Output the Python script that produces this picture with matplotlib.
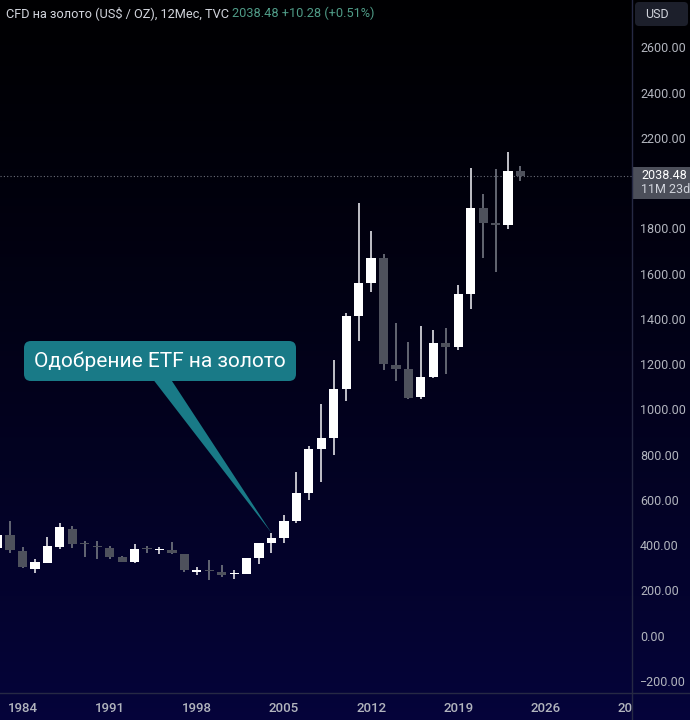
import numpy as np
import matplotlib
matplotlib.use("Agg")
import matplotlib.pyplot as plt
from matplotlib.patches import FancyBboxPatch, Polygon, Rectangle

plt.rcParams['font.family'] = ['Roboto', 'DejaVu Sans']

# годовые свечи золота
years = list(range(1982, 2025))
opens = [393, 451, 380, 301, 327, 398, 477, 412, 399, 393, 354, 332, 390, 384, 385,
         367, 287, 292, 287, 277, 278, 349, 415, 437, 513, 637, 831, 880, 1094, 1419,
         1565, 1675, 1202, 1184, 1061, 1149, 1300, 1282, 1516, 1896, 1823, 1821, 2060]
highs = [481, 513, 398, 345, 442, 504, 491, 424, 424, 402, 360, 411, 402, 397, 420,
         369, 309, 340, 318, 296, 351, 416, 460, 539, 729, 844, 1030, 1224, 1432, 1918,
         1795, 1693, 1388, 1304, 1375, 1357, 1366, 1556, 2073, 1958, 2068, 2144, 2082]
lows = [297, 371, 305, 283, 326, 389, 393, 354, 345, 346, 330, 326, 371, 366, 366,
        287, 274, 252, 264, 256, 277, 323, 371, 415, 505, 605, 685, 804, 1043, 1308,
        1525, 1180, 1132, 1052, 1052, 1146, 1162, 1270, 1450, 1675, 1613, 1803, 2016]
closes = [451, 385, 309, 331, 402, 486, 411, 409, 396, 354, 332, 389, 388, 386, 371,
          296, 289, 290, 274, 279, 349, 415, 437, 513, 637, 831, 880, 1094, 1419, 1565,
          1675, 1206, 1184, 1056, 1149, 1300, 1282, 1516, 1896, 1830, 1821, 2060, 2038.48]

x_ticks = [1984, 1991, 1998, 2005, 2012, 2019, 2026, 2033]
y_ticks = [-200, 0, 200, 400, 600, 800, 1000, 1200, 1400, 1600, 1800, 2000, 2200, 2400, 2600]
etf_year = 2004
last_price = closes[-1]

W, H = 690, 720
fig = plt.figure(figsize=(W / 100, H / 100), dpi=100)

# фон с градиентом
bg = fig.add_axes([0, 0, 1, 1], zorder=-5)
grad = np.linspace(0, 1, 256).reshape(-1, 1)
top = np.array([0.0, 0.0, 0.01])
bot = np.array([0.02, 0.015, 0.23])
img = top + (bot - top) * grad[..., None] ** 1.3
bg.imshow(img, aspect='auto', extent=[0, 1, 0, 1], origin='upper')
bg.axis('off')

# основная область графика
ax = fig.add_axes([0, 27 / H, 632 / W, 693 / H])
ax.set_facecolor('none')
ax.set_xlim(1982.19, 2032.96)
ax.set_ylim(-247.5, 2815.5)
ax.axis('off')

o = np.array(opens, dtype=float)
c = np.array(closes, dtype=float)
up = c >= o
body_col = np.where(up, '#ffffff', '#4e515c')
wick_col = np.where(up, '#d0d0d6', '#6b6e79')
body_h = np.maximum(np.abs(c - o), 7)
ax.vlines(years, lows, highs, colors=wick_col, lw=1.3, zorder=2)
ax.bar(years, body_h, bottom=np.minimum(o, c), width=0.74, color=body_col, zorder=3)
ax.axhline(last_price, color='#6b6e79', lw=0.8, ls=(0, (1, 2)), zorder=1)

# подписи по оси X
xs = fig.add_axes([0, 0, 632 / W, 27 / H])
xs.set_facecolor('none')
xs.set_xlim(ax.get_xlim())
xs.set_ylim(0, 1)
xs.axis('off')
for yr in x_ticks:
    xs.text(yr, 0.44, str(yr), ha='center', va='center', fontsize=9.5,
            color='#b2b5be', fontweight='medium', clip_on=True)

# подписи по оси Y
ys = fig.add_axes([632 / W, 27 / H, 58 / W, 693 / H])
ys.set_facecolor('none')
ys.set_xlim(0, 1)
ys.set_ylim(ax.get_ylim())
ys.axis('off')
for v in y_ticks:
    if abs(v - last_price) < 80:
        continue
    ys.text(0.14, v, f'{v:.2f}'.replace('-', '\u2212'), ha='left', va='center',
            fontsize=9, color='#b2b5be')

# верхний слой: рамки, заголовок, аннотация
ov = fig.add_axes([0, 0, 1, 1])
ov.set_facecolor('none')
ov.set_xlim(0, W)
ov.set_ylim(H, 0)
ov.axis('off')

ov.plot([632, 632], [0, H], color='#262944', lw=1)
ov.plot([0, W], [693, 693], color='#262944', lw=1)

ov.text(6, 13, 'CFD на золото (US$ / OZ), 12Мес, TVC', ha='left', va='center',
        fontsize=9.2, color='#d1d4dc')
ov.text(232, 13, '2038.48 +10.28 (+0.51%)', ha='left', va='center',
        fontsize=9.2, color='#4f9b87')

ov.add_patch(FancyBboxPatch((635, 2), 53, 24, boxstyle='round,pad=0,rounding_size=4',
                            fc='#1c1f2b', ec='none'))
ov.text(645, 14, 'USD', ha='left', va='center', fontsize=9, color='#d1d4dc')

# метка текущей цены
to_ov = ov.transData.inverted()
px = to_ov.transform(ax.transData.transform((2000, last_price)))
py = px[1]
ov.add_patch(Rectangle((632, py - 9), 58, 32, fc='#4c4f5a', ec='none'))
ov.text(641, py, f'{last_price:.2f}', ha='left', va='center', fontsize=9, color='#ffffff')
ov.text(641, py + 14, '11M 23d', ha='left', va='center', fontsize=9, color='#d1d4dc')

# выноска про одобрение ETF
i = years.index(etf_year)
tip = to_ov.transform(ax.transData.transform((etf_year, highs[i])))
teal = '#197a87'
ov.add_patch(Polygon([(152, 378), (170, 378), (tip[0], tip[1])], closed=True,
                     fc=teal, ec='none'))
ov.add_patch(FancyBboxPatch((24, 341), 272, 40, boxstyle='round,pad=0,rounding_size=7',
                            fc=teal, ec='none'))
ov.text(160, 361, 'Одобрение ETF на золото', ha='center', va='center',
        fontsize=15, color='#ffffff')

fig.savefig('out.png', dpi=100)
